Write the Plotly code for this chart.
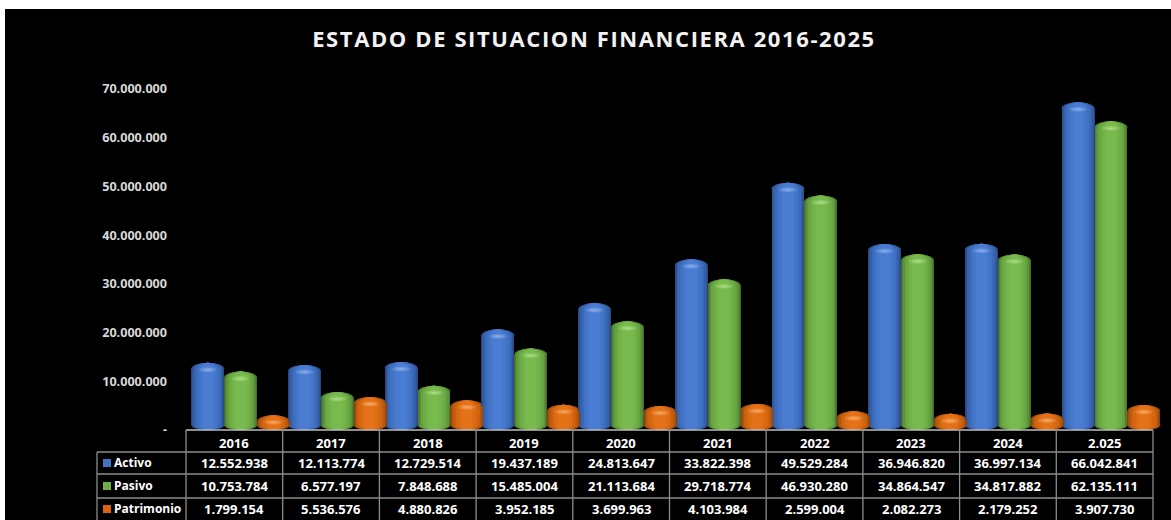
import plotly.graph_objects as go

years = ["2016","2017","2018","2019","2020","2021","2022","2023","2024","2.025"]
activo_txt = ["12.552.938","12.113.774","12.729.514","19.437.189","24.813.647","33.822.398","49.529.284","36.946.820","36.997.134","66.042.841"]
pasivo_txt = ["10.753.784","6.577.197","7.848.688","15.485.004","21.113.684","29.718.774","46.930.280","34.864.547","34.817.882","62.135.111"]
patrimonio_txt = ["1.799.154","5.536.576","4.880.826","3.952.185","3.699.963","4.103.984","2.599.004","2.082.273","2.179.252","3.907.730"]
y_ticks = [0,10000000,20000000,30000000,40000000,50000000,60000000,70000000]
y_tick_labels = ["-","10.000.000","20.000.000","30.000.000","40.000.000","50.000.000","60.000.000","70.000.000"]

def num(lst):
    return [int(s.replace(".","")) for s in lst]

series = [
    ("Activo", activo_txt, -0.275, ["#274A85","#2F5597","#3560A8","#3A69B8","#4072C4","#4578CC","#4A7DD2"], "#8FB0EA", "#4472C4"),
    ("Pasivo", pasivo_txt, 0.065, ["#456E2B","#507F33","#5C933B","#66A341","#6EAD46","#74B54A","#78BA4D"], "#B0DE88", "#70AD47"),
    ("Patrimonio", patrimonio_txt, 0.405, ["#8A4209","#A04D0C","#B5570E","#C8600F","#D56711","#DE6D14","#E37218"], "#F8AC6C", "#D9660F"),
]
W, H = 1171, 520
L, T, B = 186, 89, 430
R = 1153          # right edge of the table
RP = 1165         # right edge of the plot area (room for the last bar)
STEP = (R - L) / len(years)
FONT = "Open Sans"
BASE = 1000000

def py(p):
    return (B - p) / (B - T)
def px(p):
    return (p - L) / (RP - L)

fig = go.Figure()
shapes_below, shapes_above = [], []
xs = list(range(len(years)))
bar_w = 0.34
layers = [1.0, 0.95, 0.88, 0.78, 0.66, 0.5, 0.32]

def ell(target, x, v, x0, x1, y0, y1, col, op=1, layer="above"):
    target.append(dict(type="circle", xref="x", yref="y", xsizemode="pixel", ysizemode="pixel",
                       xanchor=x, yanchor=v, x0=x0, x1=x1, y0=y0, y1=y1,
                       fillcolor=col, opacity=op, line=dict(width=0), layer=layer))

for name, txt, off, cols, hi, key in series:
    vals = num(txt)
    for frac, col in zip(layers, cols):
        fig.add_trace(go.Bar(x=[x + off for x in xs], y=[v - BASE for v in vals], base=BASE,
                             width=bar_w * frac, name=name, cliponaxis=False,
                             marker=dict(color=col, line=dict(width=0)), showlegend=False,
                             hoverinfo="skip"))
    for x, v in zip(xs, vals):
        half = 16.5
        for frac, col in zip(layers, cols):
            ell(shapes_below, x + off, BASE, -half * frac, half * frac, -4.8, 4.8, col, layer="below")
            ell(shapes_below, x + off, v, -half * frac, half * frac, -6, 6, col, layer="below")
        ell(shapes_above, x + off, v, -9, 9, -3.5, 1.5, hi, 0.3)
        ell(shapes_above, x + off, v, -6, 6, -2.8, 0.8, hi, 0.4)
        ell(shapes_above, x + off, v, -3, 3, -2, 0, hi, 0.6)

shapes = [dict(type="rect", xref="paper", yref="paper", x0=px(5), x1=px(W), y0=py(H), y1=py(9),
               fillcolor="#000000", line=dict(width=0), layer="below")] + shapes_below + shapes_above

GRID = "#8c8c8c"
rows_y = [452, 474, 498]
def hline(x0, x1, p, color=GRID, w=1.3):
    shapes.append(dict(type="line", xref="paper", yref="paper", x0=px(x0), x1=px(x1), y0=py(p), y1=py(p),
                       line=dict(color=color, width=w)))
def vline(xp, p0, p1):
    shapes.append(dict(type="line", xref="paper", yref="paper", x0=px(xp), x1=px(xp), y0=py(p0), y1=py(p1),
                       line=dict(color=GRID, width=1.3)))

hline(L, R, 430, "#bfbfbf", 1.6)
for p in rows_y:
    hline(97, R, p)
vline(97, 452, 520)
for i in range(len(years) + 1):
    vline(L + i * STEP, 430, 520)

ann = []
def text(xv, p, s, xref="x", anchor="center", size=13, color="#ffffff"):
    ann.append(dict(x=xv, y=py(p), xref=xref, yref="paper", text="<b>%s</b>" % s, showarrow=False,
                    xanchor=anchor, yanchor="middle", font=dict(family=FONT, size=size, color=color)))

for x, yr in zip(xs, years):
    text(x, 443, yr)
row_centers = [463, 486, 509]
for (name, txt, off, cols, hi, key), p in zip(series, row_centers):
    for x, s in zip(xs, txt):
        text(x, p, s)
    text(px(112), p - 1, name, xref="paper", anchor="left", size=12)
    shapes.append(dict(type="rect", xref="paper", yref="paper", x0=px(103), x1=px(111), y0=py(p + 4), y1=py(p - 4),
                       fillcolor=key, line=dict(width=0)))

fig.update_layout(
    width=W, height=H,
    margin=dict(l=L, r=W - RP, t=T, b=H - B, pad=0),
    paper_bgcolor="#ffffff", plot_bgcolor="#000000",
    barmode="overlay", bargap=0,
    showlegend=False,
    title=dict(text="<b>ESTADO DE SITUACION FINANCIERA 2016-2025</b>", x=594 / W, y=1 - 39 / H,
               xanchor="center", yanchor="middle",
               font=dict(family=FONT, size=22, color="#f2f2f2")),
    xaxis=dict(range=[-0.5, -0.5 + (RP - L) / STEP], tickvals=[], showgrid=False, zeroline=False, showline=False),
    yaxis=dict(range=[0, 70000000], tickvals=y_ticks, ticktext=y_tick_labels, showgrid=False, zeroline=False,
               showline=False, ticks="", ticklabelstandoff=18,
               tickfont=dict(family=FONT, size=12.6, color="#d9d9d9", weight="bold")),
    shapes=shapes, annotations=ann,
)
fig.write_html("out.html", config={"displayModeBar": False},
               post_script="document.body.style.margin='0';"
                           "document.querySelectorAll('.gtitle').forEach(function(t){t.style.letterSpacing='1.6px';});")
